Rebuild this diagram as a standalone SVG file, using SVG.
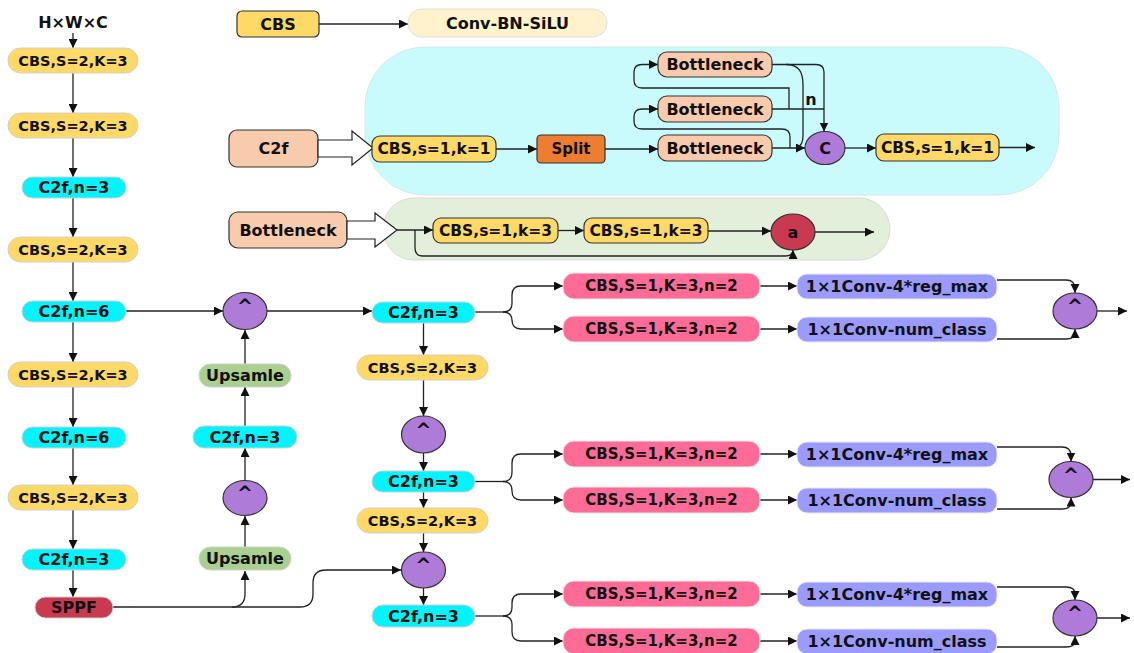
<svg xmlns="http://www.w3.org/2000/svg" width="1134" height="653" viewBox="0 0 1134 653">
<defs>
<marker id="ah" viewBox="0 0 10 10" refX="10" refY="5" markerWidth="9" markerHeight="9" markerUnits="userSpaceOnUse" orient="auto"><path d="M0,0 L10,5 L0,10 z" fill="#111"/></marker>
<style>
.t{font-family:"DejaVu Sans","Liberation Sans",sans-serif;font-weight:bold;font-size:16px;fill:#111;text-anchor:middle;dominant-baseline:central}
.s1{font-size:14.5px}
.s2{font-size:15px}
.s3{font-size:15.5px}
.s4{font-size:19px}
.c{fill:none;stroke:#222;stroke-width:1.3}
.a{marker-end:url(#ah)}
.gold{fill:#ffd966;stroke:#cfcfcf;stroke-width:1}
.golds{fill:#ffd966;stroke:#333;stroke-width:1.2}
.cyan{fill:#00f5ff;stroke:#cfcfcf;stroke-width:1}
.grn{fill:#a9d08e;stroke:#cfcfcf;stroke-width:1}
.pur{fill:#ae7bd8;stroke:#333;stroke-width:1.2}
.red{fill:#c9394f;stroke:#cfcfcf;stroke-width:1}
.pink{fill:#ff6b97;stroke:#e9e9e9;stroke-width:1}
.blue{fill:#9b9bff;stroke:#e9e9e9;stroke-width:1}
.peach{fill:#f8cbad;stroke:#333;stroke-width:1.2}
.hol{fill:#fff;stroke:#222;stroke-width:1.2}
</style>
</defs>
<!-- backgrounds -->
<rect id="c2f-block" x="365" y="47" width="694" height="148" rx="60" fill="#c9fbfd" stroke="#d8e6e6" stroke-width="1"/>
<rect id="bottleneck-block" x="383" y="198" width="507" height="62" rx="31" fill="#e2efda" stroke="#d6dcd3" stroke-width="1"/>

<g id="connectors">
<!-- legend -->
<path class="c a" d="M319,24 H408"/>
<!-- left column -->
<path class="c a" d="M73,33 V48"/>
<path class="c a" d="M73,73 V113"/>
<path class="c a" d="M73,138 V177"/>
<path class="c a" d="M73,198 V237"/>
<path class="c a" d="M73,262 V301"/>
<path class="c a" d="M73,322 V362"/>
<path class="c a" d="M73,387 V427"/>
<path class="c a" d="M73,448 V485"/>
<path class="c a" d="M73,510 V549"/>
<path class="c a" d="M73,570 V597"/>
<!-- column 2 -->
<path class="c a" d="M126,311 H223"/>
<path class="c a" d="M267,311 H372"/>
<path class="c a" d="M245,364 V330"/>
<path class="c a" d="M245,426 V387"/>
<path class="c a" d="M245,480 V448"/>
<path class="c a" d="M245,547 V516"/>
<path class="c a" d="M113,607 H232 Q245,607 245,594 V571"/>
<path class="c a" d="M232,607 H300 Q313,607 313,594 V583 Q313,570 326,570 H401"/>
<!-- column 3 -->
<path class="c a" d="M423.5,323 V355"/>
<path class="c a" d="M423.5,380 V416"/>
<path class="c a" d="M423.5,453 V471"/>
<path class="c a" d="M423.5,492 V508"/>
<path class="c a" d="M423.5,533 V552"/>
<path class="c a" d="M423.5,588 V605"/>
<!-- head 1 -->
<path class="c" d="M475,312 H503"/>
<path class="c a" d="M503,312 Q512,312 512,303 V295 Q512,286 521,286 H563"/>
<path class="c a" d="M503,312 Q512,312 512,321 V320 Q512,329 521,329 H563"/>
<path class="c a" d="M760,286 H797"/>
<path class="c a" d="M760,329 H797"/>
<path class="c a" d="M997,280 H1066 Q1075,280 1075,289 V293"/>
<path class="c a" d="M997,339 H1066 Q1075,339 1075,332 V329"/>
<path class="c a" d="M1097,311 H1127"/>
<!-- head 2 -->
<path class="c" d="M475,481.5 H503"/>
<path class="c a" d="M503,481.5 Q512,481.5 512,472 V463 Q512,454 521,454 H563"/>
<path class="c a" d="M503,481.5 Q512,481.5 512,491 Q512,500 521,500 H563"/>
<path class="c a" d="M760,454 H797"/>
<path class="c a" d="M760,500 H797"/>
<path class="c a" d="M997,447 H1062 Q1071,447 1071,456 V461.5"/>
<path class="c a" d="M997,509 H1062 Q1071,509 1071,502 V497.5"/>
<path class="c a" d="M1093,479.5 H1130"/>
<!-- head 3 -->
<path class="c" d="M475,616 H503"/>
<path class="c a" d="M503,616 Q512,616 512,607 V603 Q512,594 521,594 H563"/>
<path class="c a" d="M503,616 Q512,616 512,625 V632 Q512,641 521,641 H563"/>
<path class="c a" d="M760,594 H797"/>
<path class="c a" d="M760,641 H797"/>
<path class="c a" d="M997,587 H1066 Q1075,587 1075,594 V600"/>
<path class="c a" d="M997,647 H1066 Q1075,647 1075,641 V636"/>
<path class="c a" d="M1097,618 H1130"/>
<!-- C2f internals -->
<path class="c a" d="M496,149 H537"/>
<path class="c a" d="M605,149 H658"/>
<path class="c a" d="M772,148 H805"/>
<path class="c a" d="M772,64.5 H816 Q824,64.5 824,72 V131.5"/>
<path class="c" d="M772,109 H824"/>
<path class="c" d="M786,64.5 C799,64.5 803,72 803,85 V136 C803,143 801,146 797,148"/>
<path class="c a" d="M790,148 V137 Q790,129 782,129 H642 Q634,129 634,121 V117 Q634,109 642,109 H658"/>
<path class="c a" d="M789,109 V88 H642 Q634,88 634,80 V72 Q634,64.5 642,64.5 H658"/>
<path class="c a" d="M845,148 H876"/>
<path class="c a" d="M999,147.5 H1035"/>
<!-- Bottleneck internals -->
<path class="c a" d="M397,230 H433"/>
<path class="c a" d="M558,230.5 H584"/>
<path class="c a" d="M708,231 H771"/>
<path class="c a" d="M815,232 H874"/>
<path class="c a" d="M415,230 V248 Q415,256 423,256 H785 Q793,256 793,250"/>
</g>

<!-- legend -->
<g id="legend-cbs"><rect class="golds" x="237" y="11" width="82" height="26" rx="5"/><text class="t" x="278" y="24">CBS</text></g>
<g id="legend-conv"><rect x="408" y="9" width="199" height="28" rx="14" fill="#fff2cc" stroke="#dedede"/><text class="t" x="507.5" y="23">Conv-BN-SiLU</text></g>

<!-- left column -->
<g id="input"><text class="t" x="73" y="22">H×W×C</text></g>
<g id="l1"><rect class="gold" x="8" y="48" width="130" height="25" rx="12.5"/><text class="t s1" x="73" y="60.5">CBS,S=2,K=3</text></g>
<g id="l2"><rect class="gold" x="8" y="113" width="130" height="25" rx="12.5"/><text class="t s1" x="73" y="125.5">CBS,S=2,K=3</text></g>
<g id="l3"><rect class="cyan" x="22" y="177" width="104" height="21" rx="10.5"/><text class="t" x="74" y="187.5">C2f,n=3</text></g>
<g id="l4"><rect class="gold" x="8" y="237" width="130" height="25" rx="12.5"/><text class="t s1" x="73" y="249.5">CBS,S=2,K=3</text></g>
<g id="l5"><rect class="cyan" x="22" y="301" width="104" height="21" rx="10.5"/><text class="t" x="74" y="311.5">C2f,n=6</text></g>
<g id="l6"><rect class="gold" x="8" y="362" width="130" height="25" rx="12.5"/><text class="t s1" x="73" y="374.5">CBS,S=2,K=3</text></g>
<g id="l7"><rect class="cyan" x="22" y="427" width="104" height="21" rx="10.5"/><text class="t" x="74" y="437.5">C2f,n=6</text></g>
<g id="l8"><rect class="gold" x="8" y="485" width="130" height="25" rx="12.5"/><text class="t s1" x="73" y="497.5">CBS,S=2,K=3</text></g>
<g id="l9"><rect class="cyan" x="22" y="549" width="104" height="21" rx="10.5"/><text class="t" x="74" y="559.5">C2f,n=3</text></g>
<g id="sppf"><rect class="red" x="35" y="597" width="78" height="21" rx="10.5"/><text class="t" x="74" y="607.5">SPPF</text></g>

<!-- column 2 -->
<g id="m1"><ellipse class="pur" cx="245" cy="311" rx="22" ry="18.5"/><text class="t s4" x="245" y="306">^</text></g>
<g id="up1"><rect class="grn" x="199" y="364" width="92" height="23" rx="11.5"/><text class="t" x="245" y="375.5">Upsamle</text></g>
<g id="m-c2f"><rect class="cyan" x="193" y="426" width="104" height="22" rx="11"/><text class="t" x="245" y="437">C2f,n=3</text></g>
<g id="m2"><ellipse class="pur" cx="245" cy="498" rx="22" ry="17.5"/><text class="t s4" x="245" y="493">^</text></g>
<g id="up2"><rect class="grn" x="199" y="547" width="92" height="23" rx="11.5"/><text class="t" x="245" y="558.5">Upsamle</text></g>

<!-- column 3 -->
<g id="r1"><rect class="cyan" x="372" y="302" width="103" height="21" rx="10.5"/><text class="t" x="423.5" y="312.5">C2f,n=3</text></g>
<g id="r2"><rect class="gold" x="357" y="355" width="131" height="25" rx="12.5"/><text class="t s1" x="422.5" y="367.5">CBS,S=2,K=3</text></g>
<g id="r3"><ellipse class="pur" cx="423.5" cy="434.5" rx="22" ry="18.5"/><text class="t s4" x="423.5" y="429.5">^</text></g>
<g id="r4"><rect class="cyan" x="372" y="471" width="103" height="21" rx="10.5"/><text class="t" x="423.5" y="481.5">C2f,n=3</text></g>
<g id="r5"><rect class="gold" x="357" y="508" width="131" height="25" rx="12.5"/><text class="t s1" x="422.5" y="520.5">CBS,S=2,K=3</text></g>
<g id="r6"><ellipse class="pur" cx="423.5" cy="570" rx="22" ry="18"/><text class="t s4" x="423.5" y="565">^</text></g>
<g id="r7"><rect class="cyan" x="372" y="605" width="103" height="22" rx="11"/><text class="t" x="423.5" y="616">C2f,n=3</text></g>

<!-- heads -->
<g id="h1p1"><rect class="pink" x="563" y="273" width="197" height="26" rx="11"/><text class="t s2" x="661.5" y="286">CBS,S=1,K=3,n=2</text></g>
<g id="h1p2"><rect class="pink" x="563" y="316" width="197" height="26" rx="11"/><text class="t s2" x="661.5" y="329">CBS,S=1,K=3,n=2</text></g>
<g id="h1b1"><rect class="blue" x="797" y="274" width="200" height="25" rx="10"/><text class="t" x="897" y="286.5">1×1Conv-4*reg_max</text></g>
<g id="h1b2"><rect class="blue" x="797" y="317" width="200" height="25" rx="10"/><text class="t" x="897" y="329.5">1×1Conv-num_class</text></g>
<g id="h1c"><ellipse class="pur" cx="1075" cy="311" rx="22" ry="18"/><text class="t s4" x="1075" y="306">^</text></g>

<g id="h2p1"><rect class="pink" x="563" y="441" width="197" height="26" rx="11"/><text class="t s2" x="661.5" y="454">CBS,S=1,K=3,n=2</text></g>
<g id="h2p2"><rect class="pink" x="563" y="487" width="197" height="26" rx="11"/><text class="t s2" x="661.5" y="500">CBS,S=1,K=3,n=2</text></g>
<g id="h2b1"><rect class="blue" x="797" y="442" width="200" height="25" rx="10"/><text class="t" x="897" y="454.5">1×1Conv-4*reg_max</text></g>
<g id="h2b2"><rect class="blue" x="797" y="488" width="200" height="25" rx="10"/><text class="t" x="897" y="500.5">1×1Conv-num_class</text></g>
<g id="h2c"><ellipse class="pur" cx="1071" cy="479.5" rx="22" ry="18"/><text class="t s4" x="1071" y="474.5">^</text></g>

<g id="h3p1"><rect class="pink" x="563" y="581" width="197" height="26" rx="11"/><text class="t s2" x="661.5" y="594">CBS,S=1,K=3,n=2</text></g>
<g id="h3p2"><rect class="pink" x="563" y="628" width="197" height="26" rx="11"/><text class="t s2" x="661.5" y="641">CBS,S=1,K=3,n=2</text></g>
<g id="h3b1"><rect class="blue" x="797" y="582" width="200" height="25" rx="10"/><text class="t" x="897" y="594.5">1×1Conv-4*reg_max</text></g>
<g id="h3b2"><rect class="blue" x="797" y="629" width="200" height="25" rx="10"/><text class="t" x="897" y="641.5">1×1Conv-num_class</text></g>
<g id="h3c"><ellipse class="pur" cx="1075" cy="618" rx="22" ry="18"/><text class="t s4" x="1075" y="613">^</text></g>

<!-- C2f detail -->
<g id="c2f-label"><rect class="peach" x="229" y="130" width="89" height="37" rx="8"/><text class="t" x="273.5" y="148.5">C2f</text></g>
<g id="c2f-arrow"><polygon class="hol" points="318,140 352,140 352,131 373,148 352,165 352,157 318,157"/></g>
<g id="c2f-cbs1"><rect class="golds" x="372" y="136" width="124" height="26" rx="8"/><text class="t s3" x="434" y="149">CBS,s=1,k=1</text></g>
<g id="c2f-split"><rect x="537" y="135" width="68" height="28" rx="4" fill="#ed7d31" stroke="#333" stroke-width="1.2"/><text class="t s2" x="571" y="149">Split</text></g>
<g id="c2f-bn3"><rect class="peach" x="658" y="135" width="114" height="26" rx="9"/><text class="t" x="715" y="148">Bottleneck</text></g>
<g id="c2f-bn2"><rect class="peach" x="658" y="96" width="114" height="26" rx="9"/><text class="t" x="715" y="109">Bottleneck</text></g>
<g id="c2f-bn1"><rect class="peach" x="658" y="52" width="114" height="25" rx="9"/><text class="t" x="715" y="64.5">Bottleneck</text></g>
<g id="c2f-n"><text class="t" x="811" y="99">n</text></g>
<g id="c2f-c"><ellipse class="pur" cx="825" cy="148" rx="20" ry="16.5"/><text class="t" x="825" y="148">C</text></g>
<g id="c2f-cbs2"><rect class="golds" x="876" y="134" width="123" height="27" rx="8"/><text class="t s3" x="937.5" y="147.5">CBS,s=1,k=1</text></g>

<!-- Bottleneck detail -->
<g id="bn-label"><rect class="peach" x="229" y="212" width="118" height="36" rx="9"/><text class="t" x="288" y="230">Bottleneck</text></g>
<g id="bn-arrow"><polygon class="hol" points="347,221 375,221 375,213 397,230 375,247 375,239 347,239"/></g>
<g id="bn-cbs1"><rect class="golds" x="433" y="218" width="125" height="25" rx="8"/><text class="t s3" x="495.5" y="230.5">CBS,s=1,k=3</text></g>
<g id="bn-cbs2"><rect class="golds" x="584" y="218" width="124" height="25" rx="8"/><text class="t s3" x="646" y="230.5">CBS,s=1,k=3</text></g>
<g id="bn-a"><ellipse cx="793" cy="232" rx="22" ry="18" fill="#c9394f" stroke="#333" stroke-width="1.2"/><text class="t" x="793" y="232">a</text></g>
</svg>
